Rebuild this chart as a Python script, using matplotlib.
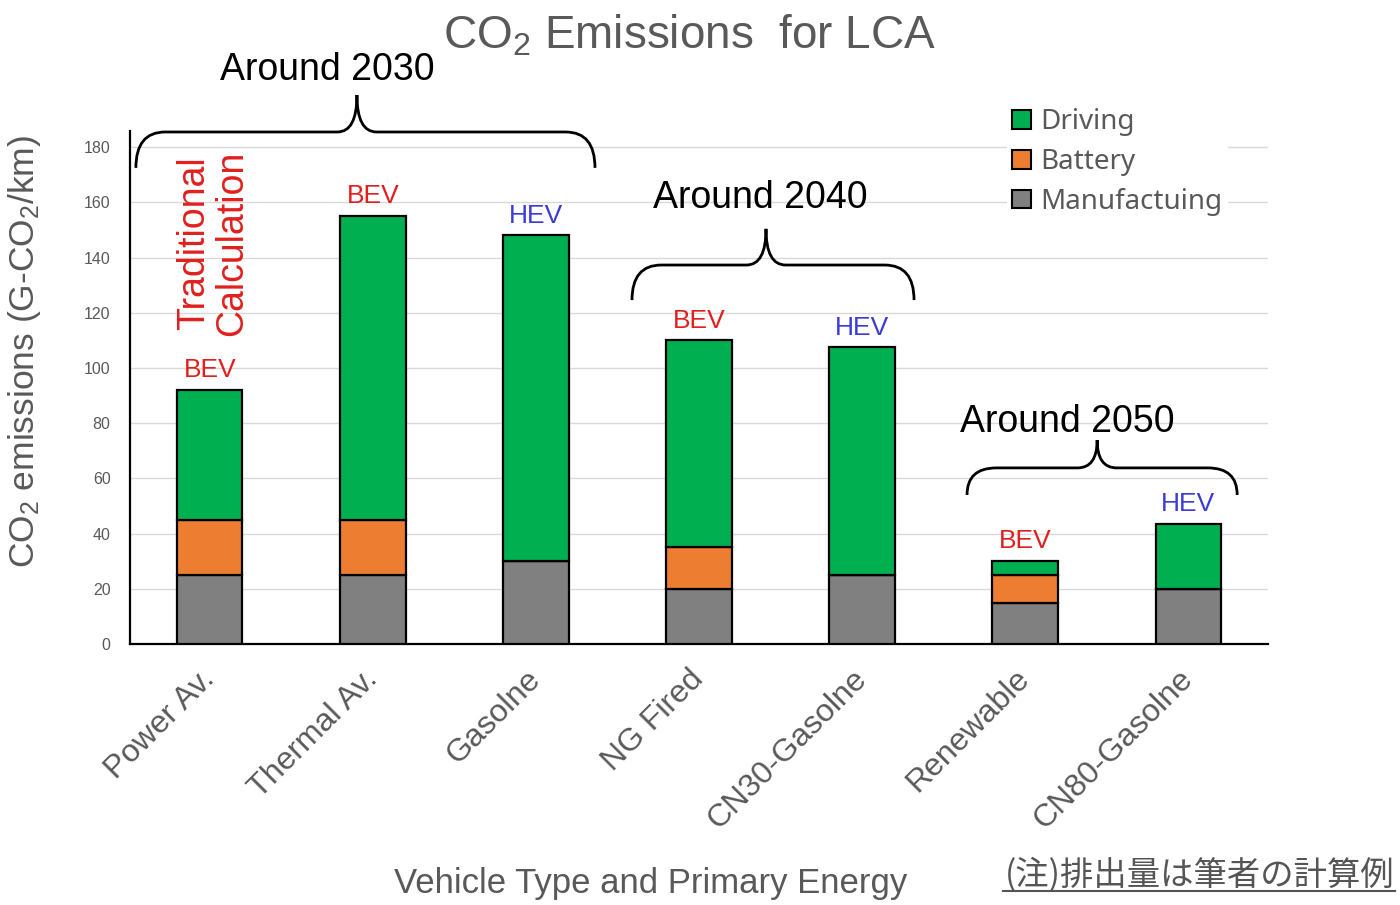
import numpy as np
import matplotlib
matplotlib.use("Agg")
import matplotlib.pyplot as plt
from matplotlib.path import Path
from matplotlib.patches import PathPatch, Patch
from matplotlib.lines import Line2D

plt.rcParams['font.family'] = ['Liberation Sans', 'DejaVu Sans']
plt.rcParams['mathtext.fontset'] = 'custom'
plt.rcParams['mathtext.rm'] = 'Liberation Sans'
plt.rcParams['mathtext.it'] = 'Liberation Sans:italic'

# data
vehicles = ['Power Av.', 'Thermal Av.', 'Gasolne', 'NG Fired',
            'CN30-Gasolne', 'Renewable', 'CN80-Gasolne']
manufacturing = [25, 25, 30, 20, 25, 15, 20]
battery = [20, 20, 0, 15, 0, 10, 0]
driving = [47, 110, 118, 75, 82.5, 5, 23.5]
types = ['BEV', 'BEV', 'HEV', 'BEV', 'HEV', 'BEV', 'HEV']
periods = ['Around 2030', 'Around 2040', 'Around 2050']

GREEN = '#00B050'
ORANGE = '#ED7D31'
GREY = '#808080'
TXT = '#595959'
RED = '#E0201E'
BLUE = '#3B3BD6'

fig = plt.figure(figsize=(14, 9.05), dpi=100)
ax = fig.add_axes([130/1400, 1-644/905, 1138/1400, 513.4/905])

x = np.arange(len(vehicles))
m = np.array(manufacturing)
b = np.array(battery)
d = np.array(driving)
w = 0.4
ax.bar(x, m, w, color=GREY, edgecolor='black', linewidth=1.6, zorder=3)
ax.bar(x, b, w, bottom=m, color=ORANGE, edgecolor='black', linewidth=1.6, zorder=3)
ax.bar(x, d, w, bottom=m+b, color=GREEN, edgecolor='black', linewidth=1.6, zorder=3)

ax.set_xlim(-0.49, 6.49)
ax.set_ylim(0, 186)
ax.set_yticks(np.arange(0, 181, 20))
ax.tick_params(axis='y', length=0, labelsize=11.5, labelcolor=TXT, pad=14)
ax.set_xticks(x)
ax.set_xticklabels(vehicles, rotation=45, ha='right', va='center',
                   rotation_mode='anchor', fontsize=23, color=TXT)
ax.tick_params(axis='x', length=0, pad=22)
ax.grid(axis='y', color='#D9D9D9', linewidth=1, zorder=0)
ax.set_axisbelow(True)
for s in ['top', 'right']:
    ax.spines[s].set_visible(False)
for s in ['left', 'bottom']:
    ax.spines[s].set_linewidth(1.6)

# BEV / HEV labels
for xi, top, t in zip(x, m+b+d, types):
    ax.text(xi, top + 2.8, t, ha='center', va='bottom', fontsize=19,
            color=RED if t == 'BEV' else BLUE)

ax.text(0.02, 111.5, 'Traditional\nCalculation', rotation=90, ha='center',
        va='bottom', fontsize=27, color=RED, linespacing=1.05)

# braces over the period groups
braces = [(-0.454, 2.362, 0.902, 172.5, 185.5, 198.9, 204.3, 0.718),
          (2.589, 4.319, 3.411, 124.6, 137.3, 150.4, 158.0, 3.374),
          (4.644, 6.301, 5.442, 54.0, 63.8, 73.9, 76.8, 5.258)]
for (x0, x1, xc, ye, yh, yt, ty, tx), lab in zip(braces, periods):
    r = 0.18
    r2 = 0.12
    verts = [(x0, ye), (x0, yh), (x0+r, yh), (xc-r2, yh), (xc, yh), (xc, yt),
             (xc, yh), (xc+r2, yh), (x1-r, yh), (x1, yh), (x1, ye)]
    codes = [Path.MOVETO, Path.CURVE3, Path.CURVE3, Path.LINETO, Path.CURVE3,
             Path.CURVE3, Path.CURVE3, Path.CURVE3, Path.LINETO, Path.CURVE3,
             Path.CURVE3]
    ax.add_patch(PathPatch(Path(verts, codes), fill=False, lw=2,
                           edgecolor='black', clip_on=False, zorder=4))
    ax.text(tx, ty, lab, ha='center', va='baseline', fontsize=27, color='black')

fig.text(690/1400, 1-48/905, r'CO$_2$ Emissions  for LCA', ha='center',
         va='baseline', fontsize=33, color=TXT)
fig.text(25/1400, 1-352/905, r'CO$_2$ emissions (G-CO$_2$/km)', rotation=90,
         ha='center', va='center', fontsize=25.5, color=TXT)
fig.text(651/1400, 1-893/905, 'Vehicle Type and Primary Energy', ha='center',
         va='baseline', fontsize=25, color=TXT)

handles = [Patch(facecolor=GREEN, edgecolor='black', lw=1.5),
           Patch(facecolor=ORANGE, edgecolor='black', lw=1.5),
           Patch(facecolor=GREY, edgecolor='black', lw=1.5)]
leg = fig.legend(handles, ['Driving', 'Battery', 'Manufactuing'],
                 loc='upper left', bbox_to_anchor=(993/1400, 1-89/905),
                 frameon=True, facecolor='white', edgecolor='none', framealpha=1,
                 handlelength=0.65, handleheight=0.65,
                 handletextpad=0.35, labelspacing=0.42, borderpad=0.2,
                 prop={'family': 'Noto Sans', 'size': 20})
for t in leg.get_texts():
    t.set_color(TXT)

fig.text(1005/1400, 1-884/905, '(注)排出量は筆者の計算例', ha='left',
         va='baseline', fontsize=24, color='#555555',
         family=['Noto Sans CJK JP', 'DejaVu Sans'])
fig.add_artist(Line2D([1003/1400, 1395/1400], [1-891/905, 1-891/905],
                      color='#555555', lw=1.5))

fig.savefig('out.png', dpi=100)
